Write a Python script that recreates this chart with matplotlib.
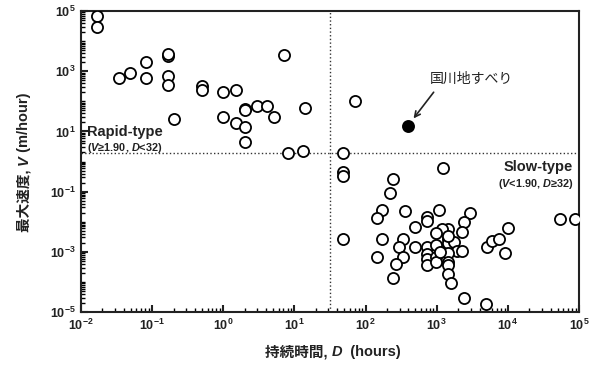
import matplotlib
matplotlib.use('Agg')
import matplotlib.pyplot as plt
import matplotlib.ticker as mticker
import numpy as np

plt.rcParams['font.family'] = ['Liberation Sans', 'Noto Sans CJK JP', 'DejaVu Sans']
plt.rcParams['mathtext.fontset'] = 'custom'
plt.rcParams['mathtext.rm'] = 'Liberation Sans'
plt.rcParams['mathtext.it'] = 'Liberation Sans:italic'
plt.rcParams['mathtext.bf'] = 'Liberation Sans:bold'
plt.rcParams['mathtext.bfit'] = 'Liberation Sans:bold:italic'

# duration D (hours) and max velocity V (m/hour)
dur = [0.017, 0.017, 0.034, 0.049, 0.083, 0.083, 0.166, 0.166, 0.166, 0.166, 0.20,
       0.51, 0.51, 1.0, 1.5, 1.0, 1.5, 2.0, 2.0, 2.0, 2.0, 3.0, 4.1, 5.1, 7.1,
       14, 8.1, 13,
       72, 48, 48, 48, 48, 1230, 245, 220, 170, 145, 360, 740, 740, 490, 1070,
       2950, 2450, 2240, 1450, 1200, 980, 170, 340, 295, 490, 740, 980, 1450,
       1450, 1740, 1900, 2240, 145, 340, 270, 245, 740, 740, 740, 980, 980,
       1450, 1450, 1450, 1450, 1600, 2450, 4900, 5100, 6000, 7600, 9100,
       10000, 54000, 87000, 1120, 1450]
vel = [69000, 30000, 590, 870, 2100, 590, 3300, 3600, 710, 350, 26,
       320, 240, 210, 240, 31, 19, 55, 50, 14, 4.6, 69, 69, 31, 3500,
       62, 1.9, 2.3,
       105, 1.95, 0.44, 0.33, 0.0026, 0.62, 0.26, 0.091, 0.025, 0.013, 0.023,
       0.014, 0.011, 0.0066, 0.025, 0.020, 0.0098, 0.0046, 0.0059, 0.0056,
       0.0043, 0.0027, 0.0026, 0.0015, 0.0014, 0.0014, 0.0017, 0.0026, 0.0019,
       0.0022, 0.0011, 0.0011, 0.00065, 0.00065, 0.00039, 0.00014, 0.00083,
       0.00056, 0.00036, 0.00069, 0.00045, 0.00089, 0.00047, 0.00036, 0.00019,
       0.000089, 0.00003, 0.000018, 0.0015, 0.0023, 0.0026, 0.00089, 0.006,
       0.0126, 0.0126, 0.001, 0.0033]

# Kunikawa landslide
kuni_d = [390]
kuni_v = [15]

d_thresh = 32
v_thresh = 1.90

xtick_vals = [1e-2, 1e-1, 1e0, 1e1, 1e2, 1e3, 1e4, 1e5]
ytick_vals = [1e-5, 1e-3, 1e-1, 1e1, 1e3, 1e5]

INK = '#222222'


def chain_text(fig, cx, cy, parts, rotation=0, **kw):
    """Draw text pieces one after another, centred on (cx, cy) in pixels."""
    r = fig.canvas.get_renderer()
    lens = []
    for s, style in parts:
        t = fig.text(0, 0, s, fontstyle=style, **kw)
        lens.append(t.get_window_extent(r).width)
        t.remove()
    total = sum(lens)
    pos = -total / 2
    for (s, style), L in zip(parts, lens):
        if rotation == 0:
            x, y = cx + pos, cy
        else:
            x, y = cx, cy + pos
        fig.text(x / fig.bbox.width, y / fig.bbox.height, s, fontstyle=style,
                 rotation=rotation, rotation_mode='anchor', ha='left', va='center', **kw)
        pos += L


fig = plt.figure(figsize=(6.0, 3.68), dpi=100)
ax = fig.add_axes([0.135, 0.152, 0.830, 0.818])

ax.plot(dur, vel, 'o', mfc='white', mec='black', ms=8, mew=1.3, zorder=3)
ax.plot(kuni_d, kuni_v, 'o', mfc='black', mec='black', ms=8, mew=1.3, zorder=4)

ax.axvline(d_thresh, color='#333333', ls=':', lw=1.0, zorder=1)
ax.axhline(v_thresh, color='#333333', ls=':', lw=1.0, zorder=1)

ax.set_xscale('log')
ax.set_yscale('log')
ax.set_xlim(1e-2, 1e5)
ax.set_ylim(1e-5, 1e5)

ax.set_xticks(xtick_vals)
ax.set_yticks(ytick_vals)
ax.xaxis.set_minor_locator(mticker.LogLocator(base=10, subs=np.arange(2, 10), numticks=20))
ax.yaxis.set_minor_locator(mticker.LogLocator(base=10, subs=np.arange(1, 10), numticks=20))
ax.yaxis.set_minor_formatter(mticker.NullFormatter())
ax.xaxis.set_minor_formatter(mticker.NullFormatter())
ax.tick_params(which='major', direction='in', length=5, width=1.5, labelsize=9,
               colors=INK, pad=4)
ax.tick_params(which='minor', direction='in', length=3, width=1.0)
for lab in ax.get_xticklabels() + ax.get_yticklabels():
    lab.set_fontweight('bold')

for s in ax.spines.values():
    s.set_linewidth(1.5)
    s.set_color(INK)

# axis labels (Japanese + bold italic symbol)
chain_text(fig, 333, 368 - 352,
           [('持続時間, ', 'normal'), ('D', 'italic'), ('  (hours)', 'normal')],
           fontsize=10.5, fontweight='bold', color=INK)
chain_text(fig, 24, 368 - 162,
           [('最大速度, ', 'normal'), ('V', 'italic'), (' (m/hour)', 'normal')],
           rotation=90, fontsize=10.5, fontweight='bold', color=INK)

ax.text(0.012, 0.585, 'Rapid-type', transform=ax.transAxes, fontsize=10.5,
        fontweight='bold', color=INK)
ax.text(0.012, 0.535, '($\\mathbfit{V}$≥1.90, $\\mathbfit{D}$<32)', transform=ax.transAxes,
        fontsize=7.8, fontweight='bold', color=INK)
ax.text(0.988, 0.47, 'Slow-type', transform=ax.transAxes, fontsize=10.5,
        fontweight='bold', color=INK, ha='right')
ax.text(0.988, 0.415, '($\\mathbfit{V}$<1.90, $\\mathbfit{D}$≥32)', transform=ax.transAxes,
        fontsize=7.8, fontweight='bold', color=INK, ha='right')

ax.annotate('国川地すべり', xy=(kuni_d[0], kuni_v[0]), xytext=(64, 47),
            textcoords='offset pixels', ha='center', va='center', fontsize=10,
            color=INK,
            arrowprops=dict(arrowstyle='->', color=INK, lw=1.2,
                            relpos=(0.1, 0.0), shrinkA=3, shrinkB=7))

fig.savefig('out.png', dpi=100)
